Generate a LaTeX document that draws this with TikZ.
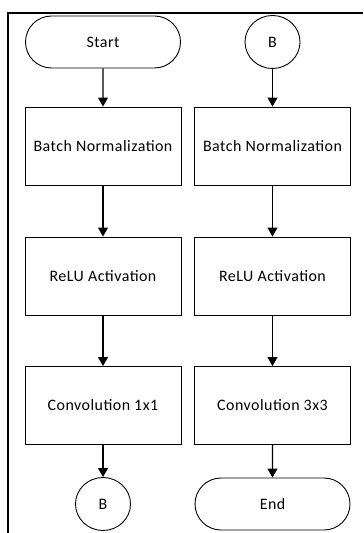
\documentclass[tikz,border=0pt]{standalone}
\usepackage{fontspec}
\setmainfont{Carlito}[LetterSpace=3]
\usetikzlibrary{shapes.misc,shapes.geometric,arrows.meta}
\begin{document}
\begin{tikzpicture}[x=1bp,y=-1bp,
  txt/.style={font=\fontsize{16}{19}\selectfont},
  proc/.style={draw,line width=0.9bp,minimum width=156bp,minimum height=78bp,inner sep=0pt,txt},
  term/.style={draw,rounded rectangle,line width=0.9bp,minimum width=155bp,minimum height=52bp,inner sep=0pt,txt},
  conn/.style={draw,ellipse,line width=0.9bp,minimum width=55bp,minimum height=53bp,inner sep=0pt,txt},
  flow/.style={-{Triangle[length=9bp,width=10bp]},line width=1.1bp}]
\useasboundingbox (0,0) rectangle (363,533);
\coordinate (fb) at (8,533);
\coordinate (fc) at (8,13);
\coordinate (fr) at (363,13);
\draw[line width=2bp] (fb) -- (fc) -- (fr);
\node[term] (start) at (103,42) {Start};
\node[proc] (bn1) at (103,146) {Batch Normalization};
\node[proc] (re1) at (103,276) {ReLU Activation};
\node[proc] (cv1) at (103,405.5) {Convolution 1x1};
\node[conn] (b1) at (103,504) {B};
\node[conn] (b2) at (272.5,42) {B};
\node[proc] (bn2) at (272.5,146) {Batch Normalization};
\node[proc] (re2) at (272.5,276) {ReLU Activation};
\node[proc] (cv2) at (272.5,405.5) {Convolution 3x3};
\node[term] (end) at (272.5,504) {End};
\draw[flow] (start) -- (bn1);
\draw[flow] (bn1) -- (re1);
\draw[flow] (re1) -- (cv1);
\draw[flow] (cv1) -- (b1);
\draw[flow] (b2) -- (bn2);
\draw[flow] (bn2) -- (re2);
\draw[flow] (re2) -- (cv2);
\draw[flow] (cv2) -- (end);
\end{tikzpicture}
\end{document}
